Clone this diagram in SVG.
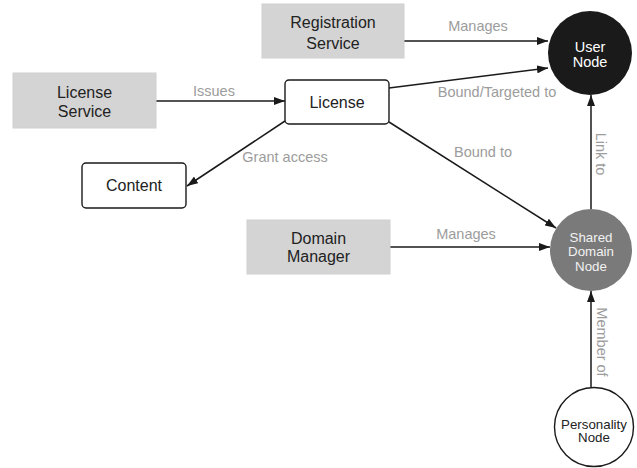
<svg xmlns="http://www.w3.org/2000/svg" width="637" height="468" viewBox="0 0 637 468">
  <style>
    .svc { fill: #d4d4d4; stroke: #d0d0d0; stroke-width: 1; }
    .obj { fill: #ffffff; stroke: #1a1a1a; stroke-width: 1.4; }
    .t { font-family: "Liberation Sans", Arial, sans-serif; font-size: 16px; fill: #222; text-anchor: middle; }
    .ct { font-family: "Liberation Sans", Arial, sans-serif; font-size: 13.3px; text-anchor: middle; }
    .lbl { font-family: "Liberation Sans", Arial, sans-serif; font-size: 14.5px; fill: #9c9c9c; text-anchor: middle; }
    .edge { stroke: #1a1a1a; stroke-width: 1.5; fill: none; marker-end: url(#arrow); }
  </style>
  <defs>
    <marker id="arrow" markerUnits="userSpaceOnUse" markerWidth="11" markerHeight="8" refX="11" refY="4" orient="auto">
      <path d="M0,0 L11,4 L0,8 z" fill="#1a1a1a"/>
    </marker>
  </defs>
  <rect width="637" height="468" fill="#ffffff"/>

  <!-- connectors -->
  <g id="connectors">
    <line class="edge" x1="404" y1="41" x2="548" y2="41"/>
    <line class="edge" x1="389" y1="88" x2="548" y2="68"/>
    <line class="edge" x1="156" y1="101" x2="285" y2="101"/>
    <line class="edge" x1="285" y1="121" x2="187" y2="186"/>
    <line class="edge" x1="389" y1="122" x2="556" y2="228"/>
    <line class="edge" x1="390" y1="247" x2="550" y2="247"/>
    <line class="edge" x1="591" y1="209" x2="591" y2="95"/>
    <line class="edge" x1="591" y1="387" x2="591" y2="291"/>
    <text class="lbl" x="478" y="31">Manages</text>
    <text class="lbl" x="497" y="96.5">Bound/Targeted to</text>
    <text class="lbl" x="214" y="96">Issues</text>
    <text class="lbl" x="285" y="161.5">Grant access</text>
    <text class="lbl" x="483" y="157">Bound to</text>
    <text class="lbl" x="466" y="238.5">Manages</text>
    <text class="lbl" transform="translate(596,154) rotate(90)">Link to</text>
    <text class="lbl" transform="translate(597,342) rotate(90)">Member of</text>
  </g>

  <g id="registration-service">
    <rect class="svc" x="262" y="4" width="142" height="54"/>
    <text class="t" x="333" y="28">Registration</text>
    <text class="t" x="333" y="49">Service</text>
  </g>

  <g id="license-service">
    <rect class="svc" x="13" y="73" width="143" height="55"/>
    <text class="t" x="84.5" y="98">License</text>
    <text class="t" x="84.5" y="117">Service</text>
  </g>

  <g id="license">
    <rect class="obj" x="285" y="80" width="104" height="44" rx="4"/>
    <text class="t" x="337" y="108">License</text>
  </g>

  <g id="content">
    <rect class="obj" x="82" y="163" width="104" height="45" rx="4"/>
    <text class="t" x="134" y="191">Content</text>
  </g>

  <g id="domain-manager">
    <rect class="svc" x="247" y="220" width="143" height="54"/>
    <text class="t" x="318.5" y="243.5">Domain</text>
    <text class="t" x="318.5" y="261.5">Manager</text>
  </g>

  <g id="user-node">
    <circle cx="590" cy="53" r="42" fill="#1a1a1a"/>
    <text class="ct" x="590" y="52" fill="#ffffff" style="font-size:14.5px">User</text>
    <text class="ct" x="590" y="67" fill="#ffffff" style="font-size:14.5px">Node</text>
  </g>

  <g id="shared-domain-node">
    <circle cx="591" cy="250" r="41" fill="#7a7a7a"/>
    <text class="ct" x="591" y="241.5" fill="#f2f2f2">Shared</text>
    <text class="ct" x="591" y="256" fill="#f2f2f2">Domain</text>
    <text class="ct" x="591" y="270.5" fill="#f2f2f2">Node</text>
  </g>

  <g id="personality-node">
    <circle cx="594" cy="427" r="39.5" fill="#ffffff" stroke="#1a1a1a" stroke-width="1.4"/>
    <text class="ct" x="594" y="428.5" fill="#222">Personality</text>
    <text class="ct" x="594" y="442" fill="#222">Node</text>
  </g>
</svg>
